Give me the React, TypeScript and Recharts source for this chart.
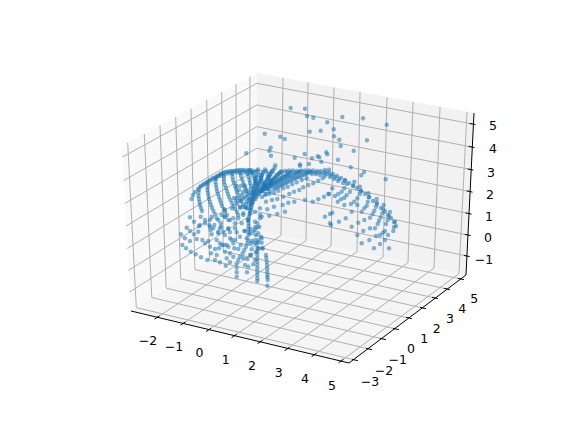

import React from 'react';
import { ScatterChart, Scatter, XAxis, YAxis, ReferenceArea, ReferenceLine } from 'recharts';

type P = number[];

// ---- cube frame, read in figure units (the same units the hidden axes span) ----
const leftPane: P[] = [[122, 146], [257, 73], [256, 230], [131, 311]];
const rightPane: P[] = [[257, 73], [474, 113], [466, 275], [256, 230]];
const floorPane: P[] = [[131, 311], [349, 363], [466, 275], [256, 230]];
const paneColors = ['#f9f9f9', '#f2f2f2', '#f5f5f5'];

// ---- tick labels ----
const xTickLabels = ['\u22122', '\u22121', '0', '1', '2', '3', '4', '5'];
const yTickLabels = ['\u22123', '\u22122', '\u22121', '0', '1', '2', '3', '4', '5'];
const zTickLabels = ['\u22121', '0', '1', '2', '3', '4', '5'];
const xLabelPos: P[] = [[148, 340], [174, 346.7], [199.5, 352.7], [225.7, 359], [252, 365.7], [278.7, 372], [305, 378.3], [332, 385]];
const yLabelPos: P[] = [[370, 381], [384, 370], [397.7, 359.3], [411, 348.3], [424.3, 338.3], [436.7, 328.3], [450, 318.3], [462.3, 308.3], [474.3, 298.7]];
const zLabelPos: P[] = [[484, 259], [488, 237], [489, 216], [490, 194], [491, 172], [493, 148], [493, 125]];

// ---- grid endpoints per tick ----
const xFront: P[] = [[157, 317.5], [183, 323.5], [208.5, 330], [234, 336], [260, 342], [287, 349], [314, 355], [341, 361]];
const xBack: P[] = [[281, 235.4], [306, 240.7], [331, 246], [357, 251.6], [383, 257.2], [408, 262.6], [434, 268.1], [459, 273.5]];
const xTop: P[] = [[283, 77.8], [308, 82.4], [334, 87.3], [360, 92], [387, 97], [413, 101.9], [440, 106.9], [467, 111.9]];
const yFront: P[] = [[355, 360], [369, 349], [383, 339], [396, 329], [409, 318], [423, 308], [435, 298], [447, 289], [461, 279]];
const yBack: P[] = [[136.3, 307.6], [151.8, 297.5], [166.2, 288.2], [180.7, 278.8], [194.9, 269.6], [209.4, 260.2], [223.3, 251.2], [236.5, 242.6], [249.5, 234.2]];
const yTop: P[] = [[127.7, 143], [144.3, 134], [160, 125.5], [175.7, 117], [191, 108.7], [206.7, 100], [221.7, 92], [236, 84.4], [250, 76.8]];
const zLeft: P[] = [[129.6, 292], [128.4, 270.5], [127.2, 248.5], [126, 226], [124.8, 203.5], [123.6, 180.5], [122.6, 157]];
const zCorner: P[] = [[256.4, 211.5], [256.4, 190.5], [256.5, 169.5], [256.6, 148.3], [256.7, 126.7], [256.8, 105], [256.9, 83.3]];
const zRight: P[] = [[466.8, 256], [467.7, 235], [468.6, 213.5], [469.6, 191.5], [470.5, 169.5], [471.5, 147], [472.5, 124]];

// ---- scatter values, grouped by visible strand ----
const upperCloud: P[] = [[290.7,108],[305,108.7],[307,116],[313.3,117.7],[342.3,117],[363,118.3],[386.7,124.7],[327.3,122.3],[333.7,129.3],[320.7,130.7],[309.7,131.7],[264.7,133.7],[280.3,136.7],[284.7,139],[334,136.3],[339.3,139.7],[367,140.3],[340.7,146],[270.7,147.7],[269.3,150.7],[271,155.7],[246.3,153.3],[353.7,150.7],[294.7,157.7],[304.7,154],[312,158.3],[317.7,156.3],[319.3,157.3],[326.3,152.3],[327.3,154.3],[321.3,161.7],[338,159.7],[309,164],[300,165.7],[300,164.5],[275.3,165.3],[274.5,168],[350.7,167.3],[329,169.7],[325,170],[385.7,179.3],[364,172],[361.3,175.3]];
const leftBand: P[] = [[191.5,199],[193,195],[195,192],[198,189],[201,186],[204,184],[207,182],[210,180],[213,178],[217,176],[220,174],[224,172.5],[228,171.5],[232,171],[236,170.5],[240,170],[244,170],[248,170],[252,170.5],[256,171]];
const leftBand2: P[] = [[203,185],[206,183],[209,181],[212,179.5],[215,177.5],[218,176],[221,174.5],[222.5,173],[226,172],[230,171.5],[234,171],[238,170.5],[242,170.5],[246,171],[250,171],[254,172],[216,178],[220,176],[224,174.5],[228,173.5],[232,173],[236,172.5],[240,172.5],[244,172.5],[248,172.5],[252,173]];
const leftArc2: P[] = [[200,187],[199,190],[198.5,193],[198.5,196],[199,199],[199.5,202],[200,205],[201,208],[202,211]];
const leftArc3: P[] = [[208,184],[207.5,187],[207.5,190],[208,193],[208.5,196],[209,199],[210,202],[211,205],[212,208],[213.5,211],[215,214]];
const leftArc4: P[] = [[216,179],[215.5,182],[216,185],[216.5,188],[217,191],[218,194],[219,197],[220,200],[221,203],[222,206],[224,209],[225,212],[227,215]];
const leftArc5: P[] = [[224,176],[224,179],[224,182],[225,185],[226,188],[227,191],[228,194],[229,197],[230.5,200],[232,203],[233.5,206],[235,209],[237,212]];
const leftArc6: P[] = [[232,174],[232.5,177],[233,180],[234,183],[235,186],[236,189],[237,192],[238.5,195],[240,198],[241,201],[243,204],[245,207]];
const leftArc7: P[] = [[240,173],[241,176],[242,179],[243,182],[244,185],[245,188],[246,191],[247,194],[248,197],[249,200]];
const leftArc8: P[] = [[247.5,174],[248.5,177],[249.5,180],[250,183],[251,186],[251.5,189],[252,192],[252,195]];
const centreColumn: P[] = [[256,175],[255.5,178],[255,181],[254.5,184],[254,187],[253.5,190],[253,193],[252.5,196],[252,199],[251.5,202],[251,205],[250.5,208],[250,211],[249.5,214],[249,217],[248.5,220],[248.5,223],[248.5,226],[248.5,229],[248.5,232],[248.5,235],[248,240],[247.3,243.3],[246,246.7],[244.3,250],[242.7,253.3],[240,256.7],[238.3,260],[236.7,263.5],[236.7,267.7],[236.7,272.3],[236.7,276.7]];
const centreDense: P[] = [[256.5,177],[256,180],[255.5,183],[255,186],[254.5,189],[254,192],[253.5,195],[253,198],[252.5,201],[252,204],[251.5,207],[251,210],[245,197],[247,201],[249,204],[243,199],[246,204],[240,201],[243,207],[247,208],[237,204],[240,208],[250,199],[249,193],[247,190],[243,192],[245,186],[241,186],[239,190],[237,186],[242,195],[234,198],[236,201]];
const stroke1: P[] = [[263,172],[262,175],[261,178],[260,181],[259,184],[258,187],[257,190],[256,193],[255,196],[254,199],[253,202],[262.5,173.5],[261.5,176.5],[260.5,179.5],[259.5,182.5],[258.5,185.5],[257.5,188.5],[256.5,191.5],[255.5,194.5]];
const stroke2: P[] = [[272,171],[270.5,174],[269,176.5],[267.5,179],[266,181.5],[264.5,184],[263,186.5],[261.5,189],[260,191.5],[258.5,194],[257,196.5],[255.5,199],[271,172.5],[269.8,175.2],[268,177.8],[266.8,180.2],[265.2,182.8],[263.8,185.2],[262.2,187.8],[260.8,190.2]];
const stroke3: P[] = [[281,171.5],[279,173.5],[277,175.5],[275,177.5],[273,179.5],[271,181.5],[269,183.5],[267,185.5],[265,187.5],[263,189.5],[261,191.5],[259,193.5],[280,172.5],[278,174.5],[276,176.5],[274,178.5],[272,180.5],[270,182.5],[268,184.5],[266,186.5],[264,188.5],[262,190.5]];
const stroke4: P[] = [[250,170],[251.5,173],[253,176],[254.5,179],[256,182],[257,184.5],[258,172],[259.5,175],[261,178],[262,181],[263,184],[264,186],[266,171],[267.5,174],[268.5,177],[270,180],[271,182],[258,169.5],[265,169.5],[273,170.5]];
const stroke5: P[] = [[290,173],[287,175],[284,176.5],[281,178],[278,180],[275,182],[272,184],[269,186],[266,188.5],[263,191],[288.5,174],[285.5,175.8],[282.5,177.2],[279.5,179],[276.5,181],[273.5,183],[270.5,185],[267.5,187.2]];
const stroke6: P[] = [[300,172],[296,174],[292,176],[288,178],[284,180],[280,182],[276,184],[272,186],[268,189],[298,173],[294,175],[290,177],[286,179],[282,181],[278,183],[274,185],[270,187.5]];
const stroke7: P[] = [[310,172],[306,174],[302,175.5],[298,177],[294,179],[290,181],[286,183],[282,185],[278,187],[274,189],[270,191.5],[266,194],[262,197],[308,173],[304,174.8],[300,176.2],[296,178],[292,180],[288,182],[284,184],[280,186],[276,188]];
const rightBand: P[] = [[285,171],[289,170.5],[293,170.5],[297,171],[301,170.5],[305,170.5],[309,170.5],[313,170.5],[317,171],[321,171],[325,172],[329,172.5],[333,174],[337,176],[341,178],[345,180.5],[349,183],[353,185.5],[357,188],[361,191],[365,194],[369,197],[373,201],[377,204],[381,208],[385,211.5],[388,215],[391,218],[394,222],[396,226]];
const rightBand2: P[] = [[282,172],[287,172],[291,172],[295,172.5],[299,172],[303,172],[307,172],[311,172],[315,172.5],[319,172.5],[323,173.5],[327,174],[331,175],[335,177],[339,179],[316,174],[312,174],[320,175],[325,176],[330,177],[334,179],[338,181],[343,183]];
const rightArcs: P[] = [[395,222],[394,227],[393.3,231],[390,212],[389,216],[387.7,220],[386,224],[383.7,205],[383.3,209.3],[382.3,213.3],[380.7,217.3],[379,220.7],[376.7,199],[376.7,202.7],[376,206.7],[374.3,210.7],[372.7,214],[370,217.7],[368.3,193.3],[369,197.3],[367.7,201.7],[366.7,205.7],[364.3,208.3],[361.7,211.7],[360,186.7],[361,190.7],[360,194],[357.3,198.3],[354.3,201.7],[351,204],[354.3,181.7],[353.3,186],[350,191.7],[346.7,195],[344.3,197.7],[341,199.3],[337.7,201.7],[345,180],[346.7,184],[344.3,188.3],[341.7,191.7],[338.3,194],[335,196],[332.3,188.3],[329,194]];
const lowerRight: P[] = [[385,231],[388,235],[383,232.7],[380,235],[376,236],[370,228.3],[364.3,220],[363.3,231],[358.3,222.7],[357.3,235],[361.7,243.3],[369.3,240],[380,244],[389,248.3],[374,248.3],[385,240],[377.7,224],[375,228.3],[351.7,226.7],[345.7,218.3],[339,221.7],[331,225],[325,216.7],[330,214],[332.3,212.7],[344.3,205],[351.7,211.7],[357.3,205]];
const midRow1: P[] = [[266.7,189.3],[265,195],[269.3,194],[274,192.7],[278.3,190.7],[283.3,188.3],[287.7,186.7],[292.3,184.3],[296.7,182.3],[301.7,180],[306.7,178.3]];
const midRow2: P[] = [[266,201.7],[272,200],[277.3,199],[283.3,196.7],[289.3,194],[294,191.7],[299.3,190],[303.3,187.3],[308.3,185],[313.3,183.3],[318.3,180.7],[322.7,178.3]];
const midRow3: P[] = [[260,208.3],[267.3,209.3],[274,206.7],[282.7,205],[288.3,202.7],[294.3,201.7],[305,200],[312.7,201.7],[318.3,199.3],[324,196.7],[328.3,194]];
const midRow4: P[] = [[261.7,216.7],[269.3,215.7],[277.3,214],[285,211.7],[330,223.3]];
const lowerLeftA: P[] = [[186.7,227.7],[190,231],[194,234.3],[198.3,231.7],[199,226.3],[210,226.7],[210.7,230],[211.7,234.3],[218.3,231.7],[221,226.7],[228.3,229],[230,232.3],[236.7,232.3],[245,231],[250.7,229],[255,230],[258.3,233.3],[261,236.7]];
const lowerLeftB: P[] = [[181,234.3],[185,238.3],[190,241],[182.3,245],[186,248.3],[190.7,251.7],[195.7,254.3],[201,257.3],[207.3,260]];
const lowerLeftC: P[] = [[196.7,239],[202.3,240],[205,243.3],[210,246.7],[215,249],[211,253.3],[216.7,255],[215,260],[220,262.3],[225.7,265.7]];
const lowerLeftD: P[] = [[220,243.3],[219,248.3],[224,245],[225,235],[231.7,240],[233.3,243.3],[228.3,246.7],[225,251.7],[230,253.3],[234.3,248.3],[240.7,245],[238.3,249],[233.3,256.7],[226.7,258.3],[230,262.3]];
const lowerLeftE: P[] = [[243.3,258.3],[247.3,259],[245,265],[248.3,266.7],[253.3,264.3],[255,260],[250,255],[256,251.7],[257.7,248.3],[255,243.3],[251.7,241],[258.3,242.3],[261.7,238.3],[262.3,248.3]];
const leftCloud: P[] = [[190,217.3],[194,221.7],[200,225],[205,223.3],[210,220],[214.3,225],[220,228.3],[218.3,220],[225,216.7],[230,220],[235,223.3],[238.3,218.3],[243.3,215],[247.7,220],[225,210],[231.7,208.3],[240,206.7],[246.7,208.3],[251.7,203.3],[236.7,198.3]];
const leftCloud2: P[] = [[200.7,216.7],[205,220],[209.3,225],[213.3,228.3],[218.3,233.3],[211.7,216.7],[216.7,218.3],[221.7,215],[225,216.7],[220.7,223.3],[228.3,220],[233.3,218.3],[238.3,215],[243.3,213.3],[250,213.3],[255,211.7],[260,215],[248.3,220],[241.7,223.3],[235,228.3],[228.3,228.3],[223.3,231.7],[244.3,231],[250,233.3],[259.3,226.7],[260,218.3],[240,236.7],[230,238.3],[235,240],[246.7,238.3],[255,240],[208.3,241],[216.7,240],[221.7,245],[226.7,245]];
const centreCloud: P[] = [[255,221.7],[257.3,223.3],[255,227.3],[257.3,227.3],[253.3,231.7],[256,235],[258.3,240],[261.7,242.7],[251,243.3],[256.7,244],[258.3,248.3],[262.7,248.3],[251.7,249.3],[257.3,251.7],[257.3,255],[251,255]];
const columnA: P[] = [[266,255],[266.3,258],[266.7,261.7],[267,265],[267.2,268.3],[267.3,271.7],[267.4,275],[267.5,277.3],[267.7,280],[267.3,285.7]];
const columnB: P[] = [[257.3,258.5],[257.3,261.7],[257.3,265],[257.3,268.3],[257.3,271.7],[257.3,275],[257.3,278.3],[257.3,281]];
const extras: P[] = [[247,272.3]];

const strands: P[][] = [upperCloud, leftBand, leftBand2, leftArc2, leftArc3, leftArc4, leftArc5, leftArc6, leftArc7, leftArc8, centreColumn, centreDense, stroke1, stroke2, stroke3, stroke4, stroke5, stroke6, stroke7, rightBand, rightBand2, rightArcs, lowerRight, midRow1, midRow2, midRow3, midRow4, lowerLeftA, lowerLeftB, lowerLeftC, lowerLeftD, lowerLeftE, leftCloud, leftCloud2, centreCloud, columnA, columnB, extras];
const points = strands.flat().map(([x, y]) => ({ x, y }));

const GRID = '#b0b0b0';
const FONT = '"DejaVu Sans", sans-serif';

const paneShape = (corners: P[], fill: string) => (p: any) => {
  const xs = corners.map((c) => c[0]);
  const ys = corners.map((c) => c[1]);
  const x0 = Math.min(...xs), x1 = Math.max(...xs), y0 = Math.min(...ys), y1 = Math.max(...ys);
  const pts = corners
    .map((c) => `${p.x + ((c[0] - x0) / (x1 - x0)) * p.width},${p.y + ((c[1] - y0) / (y1 - y0)) * p.height}`)
    .join(' ');
  return <polygon points={pts} fill={fill} stroke="none" />;
};

const Pane = (corners: P[], fill: string, key: string) => {
  const xs = corners.map((c) => c[0]);
  const ys = corners.map((c) => c[1]);
  return (
    <ReferenceArea
      key={key}
      x1={Math.min(...xs)}
      x2={Math.max(...xs)}
      y1={Math.min(...ys)}
      y2={Math.max(...ys)}
      ifOverflow="visible"
      shape={paneShape(corners, fill)}
    />
  );
};

const Seg = (a: P, b: P, color: string, key: string) => (
  <ReferenceLine
    key={key}
    segment={[{ x: a[0], y: a[1] }, { x: b[0], y: b[1] }]}
    stroke={color}
    strokeWidth={1}
    ifOverflow="visible"
  />
);

const tickAt = (p: P, towards: P, key: string) => {
  const dx = towards[0] - p[0], dy = towards[1] - p[1];
  const l = Math.hypot(dx, dy);
  const ux = dx / l, uy = dy / l;
  return Seg([p[0] - ux * 3, p[1] - uy * 3], [p[0] + ux * 3, p[1] + uy * 3], '#000', key);
};

const labels = [
  ...xTickLabels.map((t, i) => ({ x: xLabelPos[i][0], y: xLabelPos[i][1], t })),
  ...yTickLabels.map((t, i) => ({ x: yLabelPos[i][0], y: yLabelPos[i][1], t })),
  ...zTickLabels.map((t, i) => ({ x: zLabelPos[i][0], y: zLabelPos[i][1], t })),
];

export default function App() {
  return (
    <div style={{ position: 'absolute', left: 0, top: 0, width: 576, height: 432, background: '#fff' }}>
      <ScatterChart width={576} height={432} margin={{ top: 0, right: 0, bottom: 0, left: 0 }}>
        <XAxis type="number" dataKey="x" domain={[0, 576]} hide />
        <YAxis type="number" dataKey="y" domain={[0, 432]} reversed hide />
        {Pane(leftPane, paneColors[0], 'pl')}
        {Pane(rightPane, paneColors[1], 'pr')}
        {Pane(floorPane, paneColors[2], 'pf')}
        {xFront.map((p, i) => Seg(p, xBack[i], GRID, `xa${i}`))}
        {xBack.map((p, i) => Seg(p, xTop[i], GRID, `xb${i}`))}
        {yFront.map((p, i) => Seg(p, yBack[i], GRID, `ya${i}`))}
        {yBack.map((p, i) => Seg(p, yTop[i], GRID, `yb${i}`))}
        {zLeft.map((p, i) => Seg(p, zCorner[i], GRID, `za${i}`))}
        {zCorner.map((p, i) => Seg(p, zRight[i], GRID, `zb${i}`))}
        {Seg(floorPane[0], floorPane[1], '#000', 'sx')}
        {Seg(floorPane[1], floorPane[2], '#000', 'sy')}
        {Seg(rightPane[1], rightPane[2], '#000', 'sz')}
        {xFront.map((p, i) => tickAt(p, xBack[i], `tx${i}`))}
        {yFront.map((p, i) => tickAt(p, yBack[i], `ty${i}`))}
        {zRight.map((p, i) => tickAt(p, zCorner[i], `tz${i}`))}
        <Scatter
          data={points}
          isAnimationActive={false}
          shape={(p: any) => <circle cx={p.cx} cy={p.cy} r={2.2} fill="#1f77b4" fillOpacity={0.55} />}
        />
        <Scatter
          data={labels}
          isAnimationActive={false}
          shape={(p: any) => (
            <text x={p.cx} y={p.cy} textAnchor="middle" dominantBaseline="central" fontFamily={FONT} fontSize={12.5} fill="#000">
              {p.payload.t}
            </text>
          )}
        />
      </ScatterChart>
    </div>
  );
}
